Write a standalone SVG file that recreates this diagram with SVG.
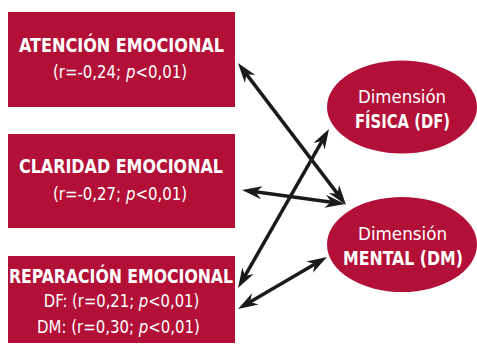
<svg xmlns="http://www.w3.org/2000/svg" width="477" height="345" viewBox="0 0 477 345">
<style>
.box{fill:#B31038}
.t{font-family:"DejaVu Sans Condensed","Liberation Sans",sans-serif;font-stretch:condensed;fill:#fff;text-anchor:middle}
.b{font-weight:bold;font-size:18.6px}
.r{font-size:18px}
.i{font-style:italic}
.conn line{stroke:#1a1a1a;stroke-width:3.5;marker-start:url(#ah);marker-end:url(#ah)}
</style>
<defs>
<marker id="ah" viewBox="-13 -8 22 16" markerWidth="22" markerHeight="16" refX="0" refY="0" markerUnits="userSpaceOnUse" orient="auto-start-reverse">
<path d="M8,0 L-12,-6.5 L-6,0 L-12,6.5 Z" fill="#1a1a1a"/>
</marker>
</defs>
<rect width="477" height="345" fill="#fff"/>
<g id="atencion">
<rect class="box" x="8" y="12" width="227" height="95"/>
<text class="t b" x="121.5" y="52" textLength="205" lengthAdjust="spacingAndGlyphs">ATENCIÓN EMOCIONAL</text>
<text class="t r" transform="translate(120,78) scale(0.924,1)" x="0" y="0">(r=-0,24; <tspan class="i">p</tspan>&lt;0,01)</text>
</g>
<g id="claridad">
<rect class="box" x="8" y="134" width="227" height="94"/>
<text class="t b" x="121" y="173" textLength="204" lengthAdjust="spacingAndGlyphs">CLARIDAD EMOCIONAL</text>
<text class="t r" transform="translate(120,200) scale(0.924,1)" x="0" y="0">(r=-0,27; <tspan class="i">p</tspan>&lt;0,01)</text>
</g>
<g id="reparacion">
<rect class="box" x="8" y="256" width="227" height="87"/>
<text class="t b" x="121" y="283" textLength="224" lengthAdjust="spacingAndGlyphs">REPARACIÓN EMOCIONAL</text>
<text class="t r" transform="translate(121.5,307) scale(0.913,1)" x="0" y="0">DF: (r=0,21; <tspan class="i">p</tspan>&lt;0,01)</text>
<text class="t r" transform="translate(118.5,333) scale(0.923,1)" x="0" y="0">DM: (r=0,30; <tspan class="i">p</tspan>&lt;0,01)</text>
</g>
<g id="fisica">
<ellipse class="box" cx="402" cy="107" rx="75" ry="46.5"/>
<text class="t r" x="402" y="103" font-size="19" textLength="88" lengthAdjust="spacingAndGlyphs">Dimensión</text>
<text class="t b" x="402.5" y="128" textLength="95" lengthAdjust="spacingAndGlyphs">FÍSICA (DF)</text>
</g>
<g id="mental">
<ellipse class="box" cx="402" cy="244.5" rx="75" ry="47.5"/>
<text class="t r" x="402.5" y="240" font-size="19" textLength="89" lengthAdjust="spacingAndGlyphs">Dimensión</text>
<text class="t b" x="403" y="265" textLength="120" lengthAdjust="spacingAndGlyphs">MENTAL (DM)</text>
</g>
<g id="connectors" class="conn">
<line x1="242.8" y1="69.4" x2="341.2" y2="198.6"/>
<line x1="249.9" y1="191.1" x2="337.1" y2="202.9"/>
<line x1="242" y1="281.1" x2="325" y2="135.9"/>
<line x1="244.9" y1="305" x2="320.1" y2="261"/>
</g>
</svg>
